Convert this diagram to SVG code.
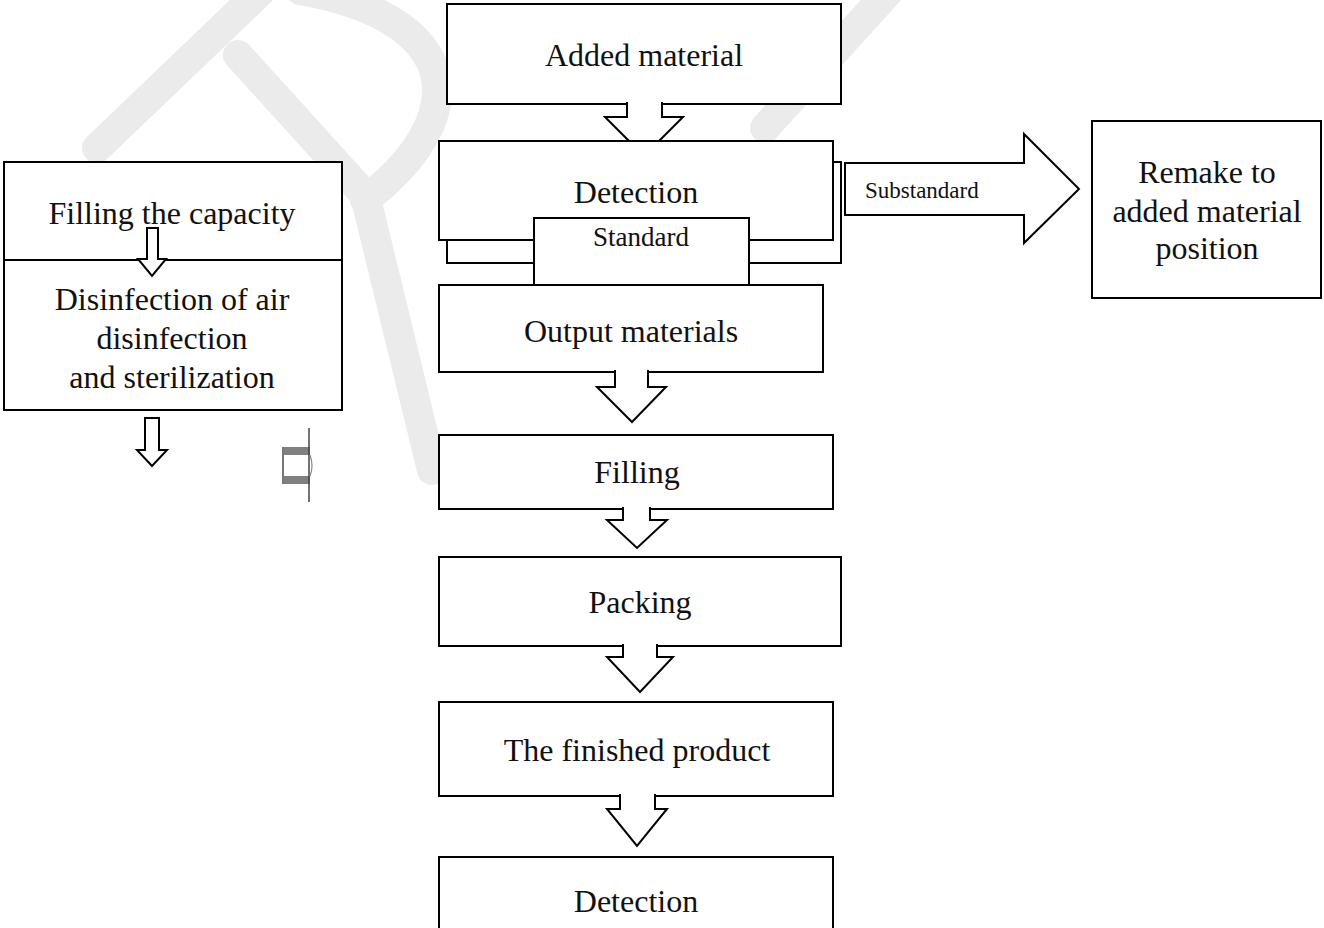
<svg xmlns="http://www.w3.org/2000/svg" width="1324" height="928" viewBox="0 0 1324 928">
<style>
.box{fill:#fff;stroke:#000;stroke-width:2}
.arr{fill:#fff;stroke:#000;stroke-width:2;stroke-linejoin:miter}
.t{font-family:"Liberation Serif","Times New Roman",serif;font-size:32px;fill:#111;text-anchor:middle}
.s{font-size:27px}
.ss{font-size:23px;text-anchor:start}
.wm{fill:none;stroke:#ebebeb;stroke-width:30;stroke-linecap:round}
</style>
<rect width="1324" height="928" fill="#fff"/>
<g id="watermark">
<path class="wm" d="M97,148 L262,-10"/>
<path class="wm" d="M238,55 L365,195 L432,470"/>
<path class="wm" d="M300,-10 C470,20 470,120 365,200"/>
<path class="wm" d="M765,128 L890,-10"/>
</g>
<g id="left-block">
<rect class="box" x="4" y="162" width="338" height="248"/>
<line x1="4" y1="260" x2="342" y2="260" stroke="#000" stroke-width="2"/>
<text class="t" x="172" y="224">Filling the capacity</text>
<text class="t" x="172" y="310">Disinfection of air</text>
<text class="t" x="172" y="349">disinfection</text>
<text class="t" x="172" y="388">and sterilization</text>
</g>
<g id="connectors">
<path class="arr" d="M147,228 L158,228 L158,259 L166,259 L152,276 L138,259 L147,259 Z"/>
<path class="arr" d="M145,418 L159,418 L159,450 L167,450 L152,466 L137,450 L145,450 Z"/>
</g>
<g id="glyph">
<rect x="282" y="447" width="28" height="8" fill="#808080"/>
<rect x="282" y="476" width="28" height="8" fill="#808080"/>
<line x1="283" y1="447" x2="283" y2="484" stroke="#777" stroke-width="2"/>
<line x1="309" y1="428" x2="309" y2="502" stroke="#444" stroke-width="1.5"/>
<path d="M310,455 Q314,466 310,476" fill="none" stroke="#888" stroke-width="1.2"/>
</g>
<g id="added-material">
<rect class="box" x="447" y="4" width="394" height="100"/>
<text class="t" x="644" y="66">Added material</text>
</g>
<g id="arrow-1">
<path class="arr" d="M627,102 L627,117 L605,117 L644,156 L683,117 L662,117 L662,102"/>
</g>
<g id="detection-1">
<rect class="box" x="447" y="162" width="394" height="101"/>
<rect class="box" x="439" y="141" width="394" height="99"/>
<text class="t" x="636" y="203">Detection</text>
</g>
<g id="standard">
<rect class="box" x="534" y="218" width="215" height="70"/>
<text class="t s" x="641" y="246">Standard</text>
</g>
<g id="substandard-arrow">
<path class="arr" d="M845,163 L1024,163 L1024,134 L1079,189 L1024,243 L1024,215 L845,215 Z"/>
<text class="t ss" x="865" y="198">Substandard</text>
</g>
<g id="remake">
<rect class="box" x="1092" y="121" width="229" height="177"/>
<text class="t" x="1207" y="183">Remake to</text>
<text class="t" x="1207" y="222">added material</text>
<text class="t" x="1207" y="259">position</text>
</g>
<g id="output-materials">
<rect class="box" x="439" y="285" width="384" height="87"/>
<text class="t" x="631" y="342">Output materials</text>
</g>
<g id="arrow-2">
<path class="arr" d="M615,370 L615,387 L597,387 L632,422 L666,387 L648,387 L648,370"/>
</g>
<g id="filling">
<rect class="box" x="439" y="435" width="394" height="74"/>
<text class="t" x="637" y="483">Filling</text>
</g>
<g id="arrow-3">
<path class="arr" d="M623,507 L623,520 L607,520 L637,548 L667,520 L650,520 L650,507"/>
</g>
<g id="packing">
<rect class="box" x="439" y="557" width="402" height="89"/>
<text class="t" x="640" y="613">Packing</text>
</g>
<g id="arrow-4">
<path class="arr" d="M623,644 L623,657 L607,657 L640,692 L673,657 L657,657 L657,644"/>
</g>
<g id="finished-product">
<rect class="box" x="439" y="702" width="394" height="94"/>
<text class="t" x="637" y="761">The finished product</text>
</g>
<g id="arrow-5">
<path class="arr" d="M620,794 L620,809 L607,809 L637,846 L667,809 L655,809 L655,794"/>
</g>
<g id="detection-2">
<rect class="box" x="439" y="857" width="394" height="80"/>
<text class="t" x="636" y="912">Detection</text>
</g>
</svg>
